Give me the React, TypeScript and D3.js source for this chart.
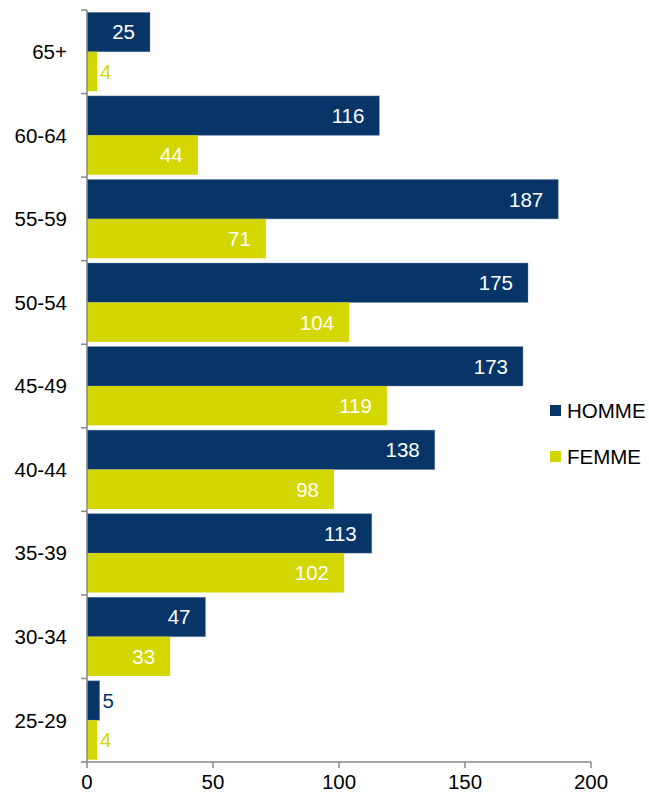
import React from "react";
import * as d3 from "d3";

const categories = ["65+", "60-64", "55-59", "50-54", "45-49", "40-44", "35-39", "30-34", "25-29"];
const homme = [25, 116, 187, 175, 173, 138, 113, 47, 5];
const femme = [4, 44, 71, 104, 119, 98, 102, 33, 4];
const seriesNames = ["HOMME", "FEMME"];
const seriesColors = ["#083567", "#d4d600"];
const xTicks = [0, 50, 100, 150, 200];

const W = 649;
const H = 798;
const left = 87;
const right = 591;
const top = 10;
const bottom = 762;
const font = "'Liberation Sans', Arial, sans-serif";
const fs = 20.5;

export default function App() {
  const x = d3.scaleLinear().domain([0, 200]).range([left, right]);
  const y = d3.scaleBand<string>().domain(categories).range([top, bottom]).paddingInner(0).paddingOuter(0);
  const inner = d3.scaleBand<string>().domain(seriesNames).range([0, y.bandwidth()]).paddingOuter(0.06).paddingInner(0);
  const series = [homme, femme];

  return (
    <svg width={W} height={H} style={{ position: "absolute", left: 0, top: 0, background: "#fff" }} fontFamily={font}>
      {categories.map((c, i) => (
        <g key={c}>
          {series.map((vals, s) => {
            const v = vals[i];
            const y0 = (y(c) as number) + (inner(seriesNames[s]) as number);
            const h = inner.bandwidth();
            const xe = x(v);
            const inside = xe - x(0) > 40;
            return (
              <g key={s}>
                <rect x={x(0)} y={y0} width={xe - x(0)} height={h} fill={seriesColors[s]} stroke="#6b84a8" strokeOpacity={s === 0 ? 0.5 : 0} strokeWidth={0.8} />
                <text
                  x={inside ? xe - 15 : xe + 3}
                  y={y0 + h / 2}
                  dy="0.36em"
                  textAnchor={inside ? "end" : "start"}
                  fontSize={fs}
                  fill={inside ? "#fff" : seriesColors[s]}
                >
                  {v}
                </text>
              </g>
            );
          })}
          <text x={67} y={(y(c) as number) + y.bandwidth() / 2} dy="0.36em" textAnchor="end" fontSize={fs} fill="#000">
            {c}
          </text>
        </g>
      ))}
      {/* left axis */}
      <line x1={left} x2={left} y1={top} y2={bottom} stroke="#888" strokeWidth={1.5} />
      {d3.range(categories.length + 1).map((k) => {
        const yy = top + k * y.step();
        return <line key={k} x1={left - 6} x2={left} y1={yy} y2={yy} stroke="#888" strokeWidth={1.5} />;
      })}
      {/* bottom axis */}
      <line x1={left} x2={right} y1={bottom} y2={bottom} stroke="#888" strokeWidth={1.5} />
      {xTicks.map((t) => (
        <g key={t}>
          <line x1={x(t)} x2={x(t)} y1={bottom} y2={bottom + 6} stroke="#888" strokeWidth={1.5} />
          <text x={x(t)} y={bottom + 27} textAnchor="middle" fontSize={fs} fill="#000">
            {t}
          </text>
        </g>
      ))}
      {/* legend */}
      {seriesNames.map((n, s) => (
        <g key={n} transform={`translate(550, ${405 + s * 46})`}>
          <rect x={0} y={0} width={11} height={11} fill={seriesColors[s]} />
          <text x={17} y={5.5} dy="0.36em" fontSize={fs} fill="#000">
            {n}
          </text>
        </g>
      ))}
    </svg>
  );
}
